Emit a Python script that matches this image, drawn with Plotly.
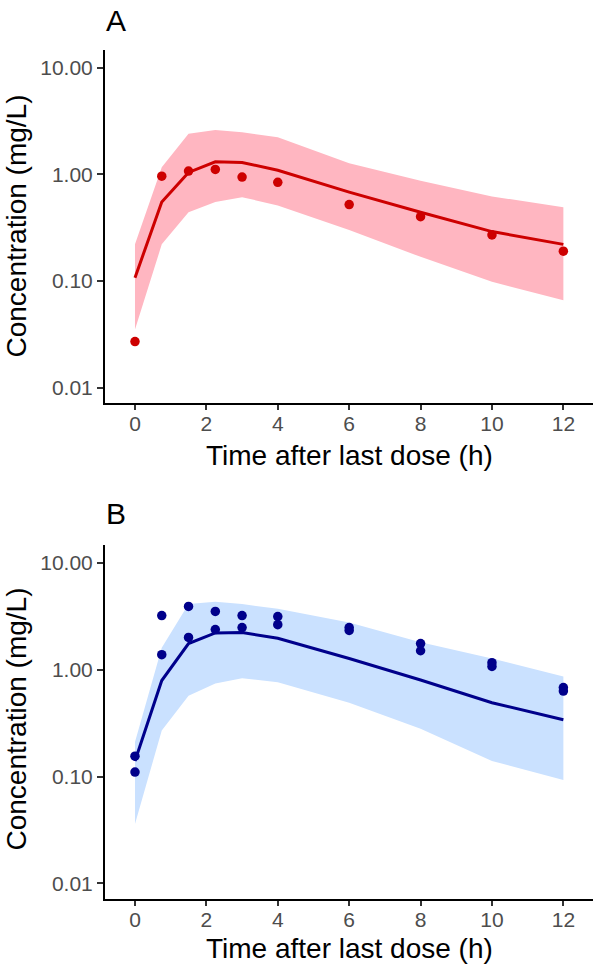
import plotly.graph_objects as go

# ---------------- data ----------------
time = [0, 0.75, 1.5, 2.25, 3, 4, 6, 8, 10, 12]

# Panel A
a_obs = [0.027, 0.96, 1.07, 1.11, 0.94, 0.84, 0.52, 0.40, 0.27, 0.19]
a_median = [0.107, 0.55, 1.04, 1.31, 1.29, 1.09, 0.68, 0.44, 0.29, 0.22]
a_upper = [0.22, 1.16, 2.4, 2.6, 2.47, 2.22, 1.27, 0.87, 0.62, 0.49]
a_lower = [0.035, 0.22, 0.44, 0.55, 0.61, 0.51, 0.30, 0.168, 0.098, 0.066]

# Panel B (two observations per time)
b_obs_time = [0, 0, 0.75, 0.75, 1.5, 1.5, 2.25, 2.25, 3, 3, 4, 4, 6, 6, 8, 8, 10, 10, 12, 12]
b_obs = [0.155, 0.11, 3.2, 1.38, 3.9, 2.0, 3.5, 2.37, 3.2, 2.47, 3.13, 2.63,
         2.47, 2.32, 1.75, 1.5, 1.16, 1.07, 0.68, 0.63]
b_median = [0.14, 0.79, 1.75, 2.2, 2.22, 1.96, 1.27, 0.80, 0.49, 0.34]
b_upper = [0.21, 1.6, 4.1, 4.3, 4.1, 3.7, 2.75, 1.8, 1.27, 0.86]
b_lower = [0.036, 0.27, 0.57, 0.74, 0.83, 0.76, 0.49, 0.28, 0.14, 0.093]

y_tickvals = [0.01, 0.1, 1, 10]
y_ticktext = ["0.01", "0.10", "1.00", "10.00"]
x_tickvals = [0, 2, 4, 6, 8, 10, 12]

# ---------------- styling ----------------
W, H = 600, 970
FONT = "Liberation Sans, Arial, sans-serif"
RED, PINK = "#CD0000", "#FFB6C1"
NAVY, LBLUE = "#00008B", "#CAE1FF"


def px(x):
    return x / W


def py(y):
    return 1 - y / H


fig = go.Figure()


def add_panel(xa, ya, lower, upper, median, obs_t, obs_y, line_c, fill_c):
    fig.add_trace(go.Scatter(x=time, y=lower, mode="lines", line=dict(width=0, color=fill_c),
                             xaxis=xa, yaxis=ya, showlegend=False, hoverinfo="skip"))
    fig.add_trace(go.Scatter(x=time, y=upper, mode="lines", line=dict(width=0, color=fill_c),
                             fill="tonexty", fillcolor=fill_c,
                             xaxis=xa, yaxis=ya, showlegend=False, hoverinfo="skip"))
    fig.add_trace(go.Scatter(x=time, y=median, mode="lines", line=dict(width=3, color=line_c),
                             xaxis=xa, yaxis=ya, showlegend=False))
    fig.add_trace(go.Scatter(x=obs_t, y=obs_y, mode="markers",
                             marker=dict(size=9.5, color=line_c),
                             xaxis=xa, yaxis=ya, showlegend=False))


add_panel("x", "y", a_lower, a_upper, a_median, time, a_obs, RED, PINK)
add_panel("x2", "y2", b_lower, b_upper, b_median, b_obs_time, b_obs, NAVY, LBLUE)

xdom = [px(105), px(593)]
common_x = dict(range=[-0.84, 12.83], tickvals=x_tickvals, showgrid=False, zeroline=False,
                showline=True, linecolor="black", linewidth=2,
                ticks="outside", ticklen=5, tickwidth=2, tickcolor="#333333",
                ticklabelstandoff=-4,
                tickfont=dict(family=FONT, size=21, color="#4D4D4D"), domain=xdom)
common_y = dict(type="log", range=[-2.145, 1.165], tickvals=y_tickvals, ticktext=y_ticktext,
                showgrid=False, zeroline=False, showline=True, linecolor="black", linewidth=2,
                ticks="outside", ticklen=6, tickwidth=2, tickcolor="#333333",
                tickfont=dict(family=FONT, size=21, color="#4D4D4D"))

fig.update_layout(
    width=W, height=H, margin=dict(l=0, r=0, t=0, b=0),
    paper_bgcolor="white", plot_bgcolor="white",
    xaxis=dict(common_x, anchor="y"),
    yaxis=dict(common_y, anchor="x", domain=[py(403), py(50)]),
    xaxis2=dict(common_x, anchor="y2"),
    yaxis2=dict(common_y, anchor="x2", domain=[py(899), py(545)]),
)


def ann(text, x, y, size, angle=0):
    fig.add_annotation(text=text, x=px(x), y=py(y), xref="paper", yref="paper",
                       xanchor="center", yanchor="middle", showarrow=False, textangle=angle,
                       font=dict(family=FONT, size=size, color="black"))


for off, lab in [(0, "A"), (493, "B")]:
    ann(lab, 116, 20 + off, 30)
    ann("Time after last dose (h)", 349, 455 + off, 28)
    ann("Concentration (mg/L)", 16, 226.5 + off, 28, angle=-90)

fig.write_html(
    "out.html",
    config={"displayModeBar": False},
    post_script="document.body.style.margin='0';document.body.style.padding='0';",
)
